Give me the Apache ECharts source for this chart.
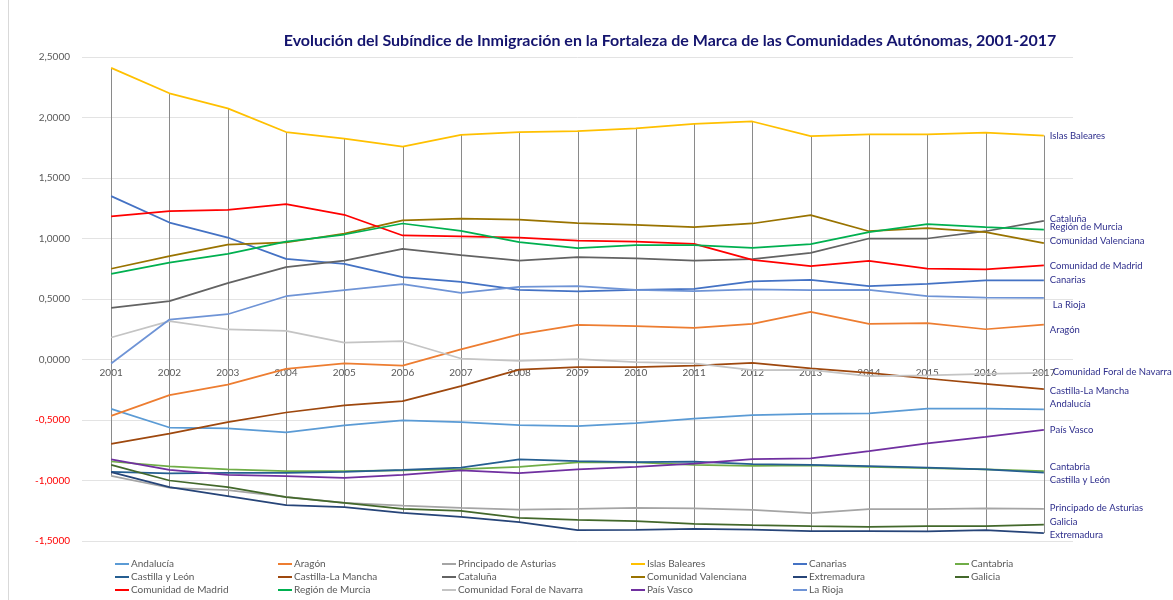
<!DOCTYPE html>
<html>
<head>
<meta charset="utf-8">
<script src="https://cdn.jsdelivr.net/npm/echarts@6/dist/echarts.min.js"></script>
<style>
  html, body { margin: 0; padding: 0; background: #fff; }
  #chart { width: 1173px; height: 600px; }
</style>
</head>
<body>
<div id="chart"></div>
<script>
// años
const years = ['2001','2002','2003','2004','2005','2006','2007','2008','2009','2010','2011','2012','2013','2014','2015','2016','2017'];

// valores del subíndice por comunidad
const andalucia  = [-0.408,-0.562,-0.570,-0.603,-0.545,-0.504,-0.518,-0.543,-0.551,-0.526,-0.488,-0.460,-0.449,-0.446,-0.405,-0.405,-0.413];
const aragon     = [-0.466,-0.295,-0.207,-0.077,-0.033,-0.050,0.083,0.207,0.287,0.275,0.262,0.295,0.394,0.295,0.300,0.250,0.289];
const asturias   = [-0.961,-1.060,-1.080,-1.135,-1.185,-1.207,-1.226,-1.240,-1.234,-1.226,-1.231,-1.242,-1.270,-1.237,-1.237,-1.231,-1.234];
const baleares   = [2.410,2.200,2.075,1.880,1.825,1.760,1.857,1.880,1.887,1.910,1.948,1.967,1.846,1.860,1.860,1.876,1.851];
const canarias   = [1.350,1.132,1.008,0.832,0.790,0.680,0.642,0.576,0.562,0.575,0.584,0.645,0.659,0.606,0.625,0.653,0.653];
const cantabria  = [-0.843,-0.884,-0.909,-0.923,-0.923,-0.917,-0.906,-0.887,-0.850,-0.850,-0.871,-0.880,-0.876,-0.887,-0.898,-0.909,-0.923];
const castillaLeon = [-0.928,-0.942,-0.937,-0.937,-0.928,-0.912,-0.893,-0.826,-0.840,-0.848,-0.843,-0.865,-0.871,-0.882,-0.893,-0.909,-0.934];
const castillaMancha = [-0.697,-0.612,-0.518,-0.438,-0.380,-0.344,-0.220,-0.083,-0.063,-0.062,-0.050,-0.028,-0.074,-0.110,-0.157,-0.201,-0.245];
const cataluna   = [0.427,0.482,0.631,0.763,0.818,0.915,0.862,0.818,0.846,0.835,0.818,0.829,0.882,1.000,1.000,1.060,1.146];
const valenciana = [0.750,0.854,0.950,0.967,1.041,1.149,1.165,1.157,1.127,1.113,1.094,1.124,1.193,1.060,1.085,1.052,0.961];
const extremadura = [-0.930,-1.055,-1.130,-1.204,-1.220,-1.267,-1.300,-1.344,-1.410,-1.408,-1.400,-1.405,-1.419,-1.419,-1.421,-1.410,-1.435];
const galicia    = [-0.871,-1.000,-1.055,-1.138,-1.185,-1.234,-1.251,-1.309,-1.325,-1.336,-1.358,-1.369,-1.377,-1.383,-1.377,-1.377,-1.364];
const madrid     = [1.182,1.226,1.237,1.284,1.196,1.025,1.017,1.008,0.983,0.975,0.956,0.824,0.771,0.815,0.752,0.744,0.777];
const murcia     = [0.708,0.800,0.873,0.975,1.033,1.124,1.063,0.970,0.920,0.945,0.945,0.923,0.953,1.052,1.118,1.094,1.074];
const navarra    = [0.182,0.317,0.248,0.237,0.140,0.151,0.008,-0.011,0.003,-0.022,-0.033,-0.088,-0.085,-0.138,-0.132,-0.118,-0.110];
const paisVasco  = [-0.826,-0.912,-0.953,-0.964,-0.978,-0.953,-0.917,-0.940,-0.909,-0.887,-0.860,-0.824,-0.818,-0.758,-0.694,-0.639,-0.581];
const laRioja    = [-0.033,0.330,0.374,0.523,0.573,0.622,0.551,0.601,0.607,0.575,0.565,0.579,0.573,0.576,0.523,0.512,0.510];

const names = ['Andalucía','Aragón','Principado de Asturias','Islas Baleares','Canarias','Cantabria',
  'Castilla y León','Castilla-La Mancha','Cataluña','Comunidad Valenciana','Extremadura','Galicia',
  'Comunidad de Madrid','Región de Murcia','Comunidad Foral de Navarra','País Vasco','La Rioja'];
const values = [andalucia, aragon, asturias, baleares, canarias, cantabria, castillaLeon, castillaMancha,
  cataluna, valenciana, extremadura, galicia, madrid, murcia, navarra, paisVasco, laRioja];

const colors = ['#5B9BD5','#ED7D31','#A5A5A5','#FFC000','#4472C4','#70AD47','#255E91','#9E480E',
  '#636363','#997300','#264478','#43682B','#FF0000','#00B050','#C4C4C4','#7030A0','#6F94D6'];

// desplazamiento de las etiquetas finales
const labelDy = [-6,5,-1,0,-1,-4,7,2,-2,-2,2,-3,0,-3,-1,0,7];
const labelDx = [0,0,0,0,0,0,0,0,0,0,0,0,0,0,3,0,3];

const FONT = 'Lato, "Open Sans", sans-serif';
const Y_MIN = -1.5, Y_MAX = 2.5;
const GRID = { left: 82, right: 100, top: 57, bottom: 59 };

const chart = echarts.init(document.getElementById('chart'));

const series = names.map((n, i) => ({
  name: n,
  type: 'line',
  data: values[i],
  symbol: 'none',
  z: 3,
  lineStyle: { width: 1.75, color: colors[i] },
  itemStyle: { color: colors[i] },
  endLabel: {
    show: true,
    formatter: '{a}',
    distance: 6,
    offset: [labelDx[i], labelDy[i]],
    color: '#2E2E8C',
    fontSize: 9.5,
    fontFamily: FONT
  }
}));

// líneas máximo-mínimo de cada año
const hiLo = years.map((y, i) => {
  const col = values.map(v => v[i]);
  return [i, Math.max(...col), Math.min(...col)];
});
series.unshift({
  type: 'custom',
  name: 'hilo',
  z: 1,
  silent: true,
  data: hiLo,
  encode: { x: 0, y: [1, 2] },
  renderItem: function (params, api) {
    const p1 = api.coord([api.value(0), api.value(1)]);
    const p2 = api.coord([api.value(0), api.value(2)]);
    return {
      type: 'line',
      shape: { x1: Math.round(p1[0]) + 0.5, y1: p1[1], x2: Math.round(p2[0]) + 0.5, y2: p2[1] },
      style: { stroke: '#8A8A8A', lineWidth: 1 }
    };
  }
});

const legendCols = [115, 278, 442, 631, 793, 955];
const legends = legendCols.map((x, c) => ({
  orient: 'vertical',
  left: x,
  top: 558,
  padding: 0,
  itemGap: 1,
  itemWidth: 14,
  itemHeight: 2,
  icon: 'rect',
  data: [names[c], names[c + 6], names[c + 12]].filter(Boolean),
  textStyle: { color: '#595959', fontSize: 10, fontFamily: FONT, lineHeight: 12, padding: [0, 0, 0, -3] }
}));

// el eje de categorías se dibuja sobre la línea del cero
const gridH = 600 - GRID.top - GRID.bottom;
const zeroOffset = -gridH * (0 - Y_MIN) / (Y_MAX - Y_MIN);

const option = {
  animation: false,
  backgroundColor: '#fff',
  color: colors,
  title: {
    text: 'Evolución del Subíndice de Inmigración en la Fortaleza de Marca de las Comunidades Autónomas, 2001-2017',
    left: 665,
    textAlign: 'center',
    top: 28,
    textStyle: { color: '#14146E', fontSize: 16, fontWeight: 'bold', fontFamily: FONT }
  },
  legend: legends,
  grid: { left: GRID.left, right: GRID.right, top: GRID.top, bottom: GRID.bottom, containLabel: false },
  xAxis: {
    type: 'category',
    data: years,
    boundaryGap: true,
    position: 'bottom',
    offset: zeroOffset,
    axisLine: { show: false, onZero: false },
    axisTick: { show: false },
    axisLabel: { color: '#595959', fontSize: 10, fontFamily: FONT, margin: 8 },
    splitLine: { show: false }
  },
  yAxis: {
    type: 'value',
    min: Y_MIN,
    max: Y_MAX,
    interval: 0.5,
    axisLine: { show: false },
    axisTick: { show: false },
    axisLabel: {
      fontSize: 10,
      fontFamily: FONT,
      margin: 12,
      color: v => (v < 0 ? '#FF0000' : '#595959'),
      formatter: v => v.toFixed(4).replace('.', ',')
    },
    splitLine: { lineStyle: { color: '#E3E3E3', width: 1 } }
  },
  graphic: [{
    type: 'line',
    shape: { x1: 8.5, y1: 0, x2: 8.5, y2: 600 },
    style: { stroke: '#D9D9D9', lineWidth: 1 }
  }],
  series: series
};

chart.setOption(option);
</script>
</body>
</html>
